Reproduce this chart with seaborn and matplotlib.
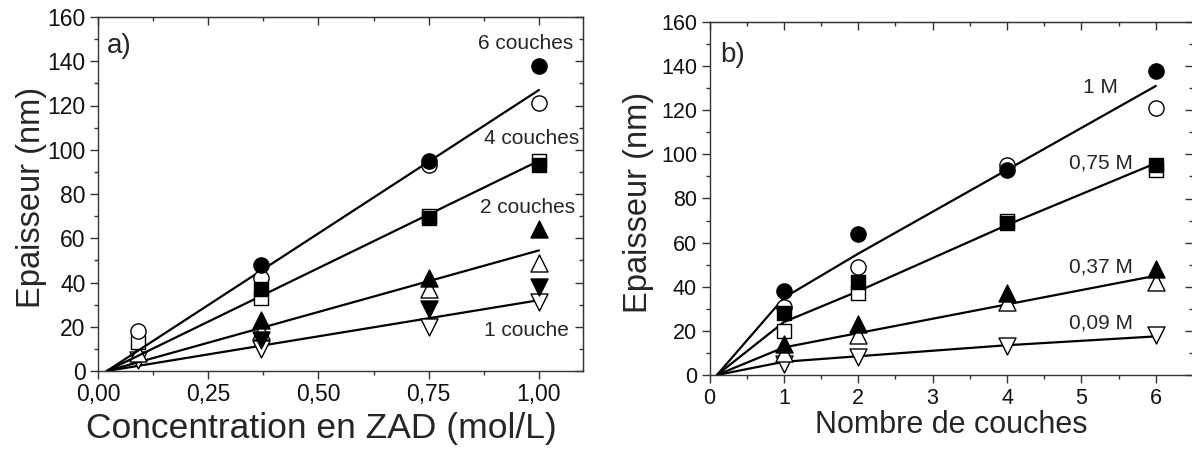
import numpy as np
import matplotlib
matplotlib.use('Agg')
import matplotlib.pyplot as plt
from matplotlib.ticker import MultipleLocator
import seaborn as sns

# Epaisseur des films vs concentration en ZAD / nombre de couches

conc = [0.09, 0.37, 0.75, 1.0]
conc_labels = ['0,09 M', '0,37 M', '0,75 M', '1 M']
layers = [1, 2, 4, 6]
layer_labels = ['1 couche', '2 couches', '4 couches', '6 couches']

# thickness (nm), rows = layers, cols = concentrations
filled_1 = [np.nan, 14, 28, 38]
filled_2 = [np.nan, 23, 42, 64]
filled_4 = [np.nan, 37, 69, 93]
filled_6 = [np.nan, 48, 95, 138]
open_1 = [5, 10, 20, 31]
open_2 = [8, 18, 37, 49]
open_4 = [13, 33, 70, 95]
open_6 = [18, 42, 93, 121]

# fitted lines
fit_a_x = [0.02, 1.0]
fit_a_1 = [0, 32]
fit_a_2 = [0, 54.5]
fit_a_4 = [0, 95]
fit_a_6 = [0, 127]
fit_b_x = [0.1, 1, 2, 4, 6]
fit_b_009 = [0, 6, 8.5, 13.5, 17.5]
fit_b_037 = [0, 12.5, 19, 32, 45]
fit_b_075 = [0, 24, 38, 68, 96]
fit_b_1 = [0, 35, 55, 93, 131]

filled = np.array([filled_1, filled_2, filled_4, filled_6])
opened = np.array([open_1, open_2, open_4, open_6])
fits_a = [fit_a_1, fit_a_2, fit_a_4, fit_a_6]
fits_b = [fit_b_009, fit_b_037, fit_b_075, fit_b_1]
markers = ['v', '^', 's', 'o']
msizes = [150, 150, 110, 120]

sns.set_style('ticks')
plt.rcParams['font.family'] = ['Liberation Sans', 'DejaVu Sans']
plt.rcParams['axes.edgecolor'] = '#333333'
plt.rcParams['xtick.color'] = '#333333'
plt.rcParams['ytick.color'] = '#333333'
plt.rcParams['xtick.labelcolor'] = '#111111'
plt.rcParams['ytick.labelcolor'] = '#111111'

fig = plt.figure(figsize=(11.92, 4.5), dpi=100)
ax_a = fig.add_axes([98 / 1192, 1 - 371 / 450, 485 / 1192, 354 / 450])
ax_b = fig.add_axes([709.5 / 1192, 1 - 375 / 450, 483.5 / 1192, 353 / 450])


def draw_points(ax, x, y, marker, s, fill):
    sns.scatterplot(x=x, y=y, ax=ax, marker=marker, s=s,
                    color='black' if fill else 'white',
                    edgecolor='black', linewidth=1.0, zorder=3 if fill else 2,
                    legend=False)


def style_axes(ax, xmaj, xmin, xlim, tsize):
    ax.set_xlim(*xlim)
    ax.set_ylim(0, 160)
    ax.xaxis.set_major_locator(MultipleLocator(xmaj))
    ax.xaxis.set_minor_locator(MultipleLocator(xmin))
    ax.yaxis.set_major_locator(MultipleLocator(20))
    ax.yaxis.set_minor_locator(MultipleLocator(10))
    ax.tick_params(which='both', direction='out', labelsize=tsize, width=1)
    ax.tick_params(which='major', length=6, pad=3)
    ax.tick_params(which='minor', length=3)
    for sp in ax.spines.values():
        sp.set_visible(True)
        sp.set_linewidth(1.0)
    # mirrored ticks on top and right, pointing inward
    top = ax.secondary_xaxis('top')
    top.xaxis.set_major_locator(MultipleLocator(xmaj))
    top.xaxis.set_minor_locator(MultipleLocator(xmin))
    top.tick_params(which='both', direction='in', labeltop=False, width=1)
    top.tick_params(which='major', length=6)
    top.tick_params(which='minor', length=3)
    right = ax.secondary_yaxis('right')
    right.yaxis.set_major_locator(MultipleLocator(20))
    right.yaxis.set_minor_locator(MultipleLocator(10))
    right.tick_params(which='both', direction='in', labelright=False, width=1)
    right.tick_params(which='major', length=6)
    right.tick_params(which='minor', length=3)


# ---- panel a : thickness vs concentration
for i in range(4):
    sns.lineplot(x=fit_a_x, y=fits_a[i], ax=ax_a, color='black', linewidth=1.6)
    draw_points(ax_a, conc, opened[i], markers[i], msizes[i], False)
    draw_points(ax_a, conc, filled[i], markers[i], msizes[i], True)

style_axes(ax_a, 0.25, 0.125, (0, 1.1), 16.5)
ax_a.set_xticks([0, 0.25, 0.5, 0.75, 1.0])
ax_a.set_xticklabels(['0,00', '0,25', '0,50', '0,75', '1,00'])
ax_a.set_xlabel('Concentration en ZAD (mol/L)', fontsize=25.5)
ax_a.set_ylabel('Epaisseur (nm)', fontsize=23.5)
ax_a.xaxis.set_label_coords(0.46, -0.115)
ax_a.yaxis.set_label_coords(-0.106, 0.49)
ax_a.text(0.02, 147, 'a)', fontsize=20, ha='left', va='center')
label_pos_a = [(1.068, 18.5), (1.082, 73.7), (1.091, 105), (1.077, 148)]
for lab, (tx, ty) in zip(layer_labels, label_pos_a):
    ax_a.text(tx, ty, lab, fontsize=15, ha='right', va='center')

# ---- panel b : thickness vs number of layers
for j in range(4):
    sns.lineplot(x=fit_b_x, y=fits_b[j], ax=ax_b, color='black', linewidth=1.6)
    draw_points(ax_b, layers, opened[:, j], markers[j], msizes[j], False)
    draw_points(ax_b, layers, filled[:, j], markers[j], msizes[j], True)

style_axes(ax_b, 1, 0.5, (0, 6.5), 15.5)
ax_b.set_xlabel('Nombre de couches', fontsize=22)
ax_b.set_ylabel('Epaisseur (nm)', fontsize=23.5)
ax_b.xaxis.set_label_coords(0.5, -0.1)
ax_b.yaxis.set_label_coords(-0.115, 0.49)
ax_b.text(0.14, 145, 'b)', fontsize=20, ha='left', va='center')
label_pos_b = [(5.69, 23.5), (5.69, 49), (5.69, 96), (5.49, 130.5)]
for lab, (tx, ty) in zip(conc_labels, label_pos_b):
    ax_b.text(tx, ty, lab, fontsize=15, ha='right', va='center')

fig.savefig('out.png', dpi=100)
